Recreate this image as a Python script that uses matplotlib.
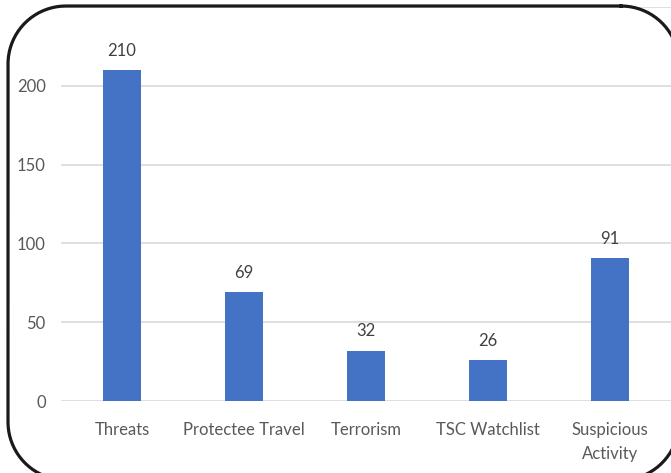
import numpy as np
import matplotlib
matplotlib.use('Agg')
import matplotlib.pyplot as plt

categories = ['Threats', 'Protectee Travel', 'Terrorism', 'TSC Watchlist', 'Suspicious\nActivity']
counts = [210, 69, 32, 26, 91]
yticks = [0, 50, 100, 150, 200, 250]

plt.rcParams['font.family'] = ['Lato', 'DejaVu Sans']

fig = plt.figure(figsize=(6.71, 4.73), dpi=100)
ax = fig.add_axes([61/671, 72/473, 610/671, (401-7.25)/473])

x = range(len(categories))
ax.bar(x, counts, width=0.31, color='#4472C4', zorder=3)
for i, v in zip(x, counts):
    ax.annotate(str(v), (i, v), xytext=(0, 8), textcoords='offset points',
                ha='center', va='bottom', fontsize=12, color='#404040')

ax.set_xlim(-0.5, len(categories) - 0.5)
ax.set_ylim(0, 250)
ax.set_yticks(yticks)
ax.set_yticklabels([str(t) if t < 250 else '' for t in yticks])
ax.set_xticks(list(x))
ax.set_xticklabels(categories, linespacing=1.65)
ax.yaxis.grid(True, color='#D9D9D9', linewidth=1.2, zorder=0)
for s in ax.spines.values():
    s.set_visible(False)
ax.tick_params(axis='both', length=0, labelsize=12, labelcolor='#595959')
ax.tick_params(axis='y', pad=11)
ax.tick_params(axis='x', pad=15)

# rounded frame around the picture (pixel coords, y down)
over = fig.add_axes([0, 0, 1, 1], zorder=10)
over.set_xlim(0, 671)
over.set_ylim(473, 0)
over.axis('off')
over.patch.set_alpha(0)

left, top, right, bottom, r = 8, 6, 679, 480, 58
corners = [(right - r, top + r, -90, 0), (right - r, bottom - r, 0, 90),
           (left + r, bottom - r, 90, 180), (left + r, top + r, 180, 270)]
px, py = [], []
for cx, cy, a0, a1 in corners:
    t = np.radians(np.linspace(a0, a1, 40))
    px.extend(cx + r * np.cos(t))
    py.extend(cy + r * np.sin(t))
px.append(px[0])
py.append(py[0])
over.plot(px, py, color='#1a1a1a', linewidth=2.3, clip_on=False)

fig.savefig('out.png', dpi=100)
